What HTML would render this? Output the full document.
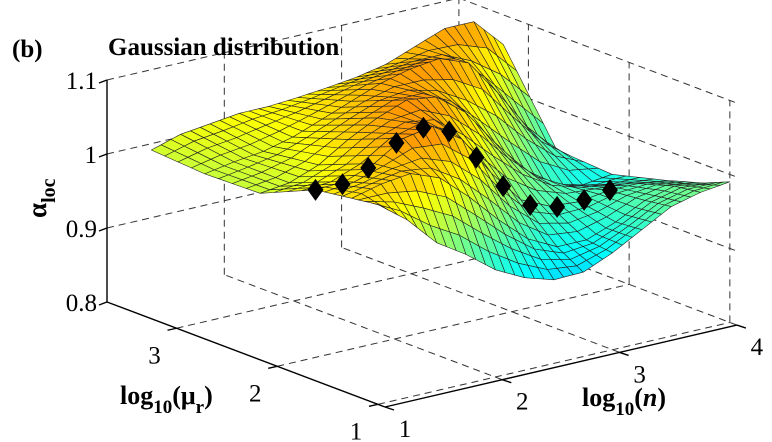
<!DOCTYPE html>
<html><head><meta charset="utf-8"><style>
html,body{margin:0;padding:0;background:#fff}
svg{display:block;font-family:"Liberation Serif","Times New Roman",Times,"DejaVu Serif",serif}
svg text{font-family:"Liberation Serif","Times New Roman",Times,"DejaVu Serif",serif;fill:#000}
</style></head><body>
<svg id="chart" width="772" height="442" viewBox="0 0 772 442" xmlns="http://www.w3.org/2000/svg">
<g id="box"></g>
<g id="surf"></g>
<g id="marks"></g>
<g id="labels">
<text x="12" y="57" font-size="25" font-weight="bold">(b)</text>
<text x="108" y="55" font-size="25" font-weight="bold">Gaussian distribution</text>
<text transform="translate(46,218) rotate(-90)" font-size="27" font-weight="bold">α<tspan font-size="20" dy="9">loc</tspan></text>
<text x="120" y="404" font-size="26" font-weight="bold">log<tspan font-size="19" dy="9">10</tspan><tspan dy="-9">(μ</tspan><tspan font-size="19" dy="9">r</tspan><tspan dy="-9">)</tspan></text>
<text x="582" y="406" font-size="26" font-weight="bold">log<tspan font-size="19" dy="9">10</tspan><tspan dy="-9">(</tspan><tspan font-style="italic">n</tspan>)</text>
</g>
</svg>
<script>
const nVals = [1,1.25,1.5,1.75,2,2.25,2.5,2.75,3,3.25,3.5,3.75,4];
const muVals = [1.0,1.26,1.62,2.17,2.72,3.25];
const zRow0 = [1.07,1.04,1.0,0.975,0.945,0.925,0.913,0.914,0.931,0.953,0.975,0.985,0.99];
const zRow1 = [1.065,1.075,1.08,1.065,1.03,0.99,0.955,0.935,0.935,0.95,0.97,0.98,0.975];
const zRow2 = [1.058,1.06,1.075,1.10,1.107,1.08,1.025,0.98,0.962,0.959,0.965,0.965,0.96];
const zRow3 = [1.025,1.03,1.045,1.07,1.09,1.105,1.10,1.07,1.02,0.975,0.945,0.935,0.94];
const zRow4 = [1.023,1.03,1.035,1.045,1.06,1.075,1.09,1.10,1.105,1.09,1.04,0.985,0.945];
const zRow5 = [1.028,1.04,1.045,1.05,1.05,1.053,1.057,1.062,1.07,1.085,1.10,1.10,1.06];
const zRows = [zRow0,zRow1,zRow2,zRow3,zRow4,zRow5];
const diamondN = [1.0,1.23,1.45,1.69,1.92,2.14,2.37,2.60,2.83,3.06,3.29,3.51];
const diamondZ = [1.058,1.057,1.071,1.096,1.108,1.095,1.051,1.004,0.970,0.959,0.960,0.965];
const diamondMu = 1.62;
const zTicks = [0.8,0.9,1.0,1.1];
const zTickLabels = ["0.8","0.9","1","1.1"];
const muTicks = [1,2,3];
const nTicks = [1,2,3,4];

const NS="http://www.w3.org/2000/svg";
const MU0=0.93, MU1=3.69, Z0=0.8;
function P(n,mu,z){const u=(mu-MU0)/(MU1-MU0);return [385+(n-1)*117.3-u*278, 407-(n-1)*27.3-u*105-(z-Z0)*740];}
function mk(tag,parent,attrs){const e=document.createElementNS(NS,tag);for(const k in attrs)e.setAttribute(k,attrs[k]);parent.appendChild(e);return e;}
function jet(z){let t=(z-0.75)/0.48;t=Math.max(0,Math.min(1,t));const c=v=>Math.round(255*Math.max(0,Math.min(1,1.5-Math.abs(4*t-v))));return `rgb(${c(3)},${c(2)},${c(1)})`;}
const box=document.getElementById('box');
function line(a,b,dash,name){const l=mk('line',box,{x1:a[0],y1:a[1],x2:b[0],y2:b[1],stroke:dash?'#333':'#000','stroke-width':dash?1:1.4});if(dash)l.setAttribute('stroke-dasharray','7,5');

}
zTicks.forEach((z,i)=>{if(i>0){line(P(1,MU1,z),P(4,MU1,z),true,'back-wall-gridline');line(P(4,MU1,z),P(4,MU0,z),true,'right-wall-gridline');}});
nTicks.forEach(n=>{if(n>1)line(P(n,MU1,0.8),P(n,MU1,1.1),true,'back-wall-vertical');});
muTicks.forEach(m=>{line(P(4,m,0.8),P(4,m,1.1),true,'right-wall-vertical');line(P(1,m,0.8),P(4,m,0.8),true,'floor-gridline');});
nTicks.forEach(n=>{if(n>1)line(P(n,MU0,0.8),P(n,MU1,0.8),true,'floor-gridline');});
line(P(1,MU1,0.8),P(1,MU1,1.1),false,'z-axis');
line(P(1,MU1,0.8),P(1,MU0,0.8),false,'mu-axis');
line(P(1,MU0,0.8),P(4,MU0,0.8),false,'n-axis');
zTicks.forEach((z,i)=>{const p=P(1,MU1,z);line(p,[p[0]-8,p[1]+3],false,'z-tick');
const t=mk('text',box,{x:p[0]-10,y:p[1]+9,'font-size':25,'text-anchor':'end'});t.textContent=zTickLabels[i];

});
muTicks.forEach(m=>{const p=P(1,m,0.8);line(p,[p[0]-9,p[1]+2],false,'mu-tick');
const t=mk('text',box,{x:p[0]-22,y:p[1]+35,'font-size':25,'text-anchor':'middle'});t.textContent=String(m);

});
nTicks.forEach(n=>{const p=P(n,MU0,0.8);line(p,[p[0]+9,p[1]+3],false,'n-tick');
const t=mk('text',box,{x:p[0]+20,y:p[1]+30,'font-size':25,'text-anchor':'middle'});t.textContent=String(n);

});
const surf=document.getElementById('surf');
const SN=3,SM=4;const quads=[];
for(let j=0;j<muVals.length-1;j++)for(let i=0;i<nVals.length-1;i++){
 for(let b=0;b<SM;b++)for(let a=0;a<SN;a++){
  const pt=(fa,fb)=>{const n=nVals[i]+(nVals[i+1]-nVals[i])*fa, m=muVals[j]+(muVals[j+1]-muVals[j])*fb;
   const z=zRows[j][i]*(1-fa)*(1-fb)+zRows[j][i+1]*fa*(1-fb)+zRows[j+1][i]*(1-fa)*fb+zRows[j+1][i+1]*fa*fb;return [n,m,z];};
  const c=[pt(a/SN,b/SM),pt((a+1)/SN,b/SM),pt((a+1)/SN,(b+1)/SM),pt(a/SN,(b+1)/SM)];
  const zm=(c[0][2]+c[1][2]+c[2][2]+c[3][2])/4;
  const depth=((c[0][0]+c[2][0])/2-1)/3+((c[0][1]+c[2][1])/2-MU0)/(MU1-MU0);
  quads.push({c,zm,depth});
 }}
quads.sort((p,q)=>q.depth-p.depth);
quads.forEach(q=>{const pts=q.c.map(v=>P(v[0],v[1],v[2]).map(x=>x.toFixed(1)).join(',')).join(' ');
 const pg=mk('polygon',surf,{points:pts,fill:jet(q.zm),stroke:'#222','stroke-width':0.6,'stroke-linejoin':'round'});
 
 });
const marks=document.getElementById('marks');
diamondN.forEach((n,k)=>{const p=P(n,diamondMu,diamondZ[k]);
 const d=mk('polygon',marks,{points:`${p[0]},${p[1]-11} ${p[0]+8},${p[1]} ${p[0]},${p[1]+11} ${p[0]-8},${p[1]}`,fill:'#000'});
 
 });
</script>
</body></html>
